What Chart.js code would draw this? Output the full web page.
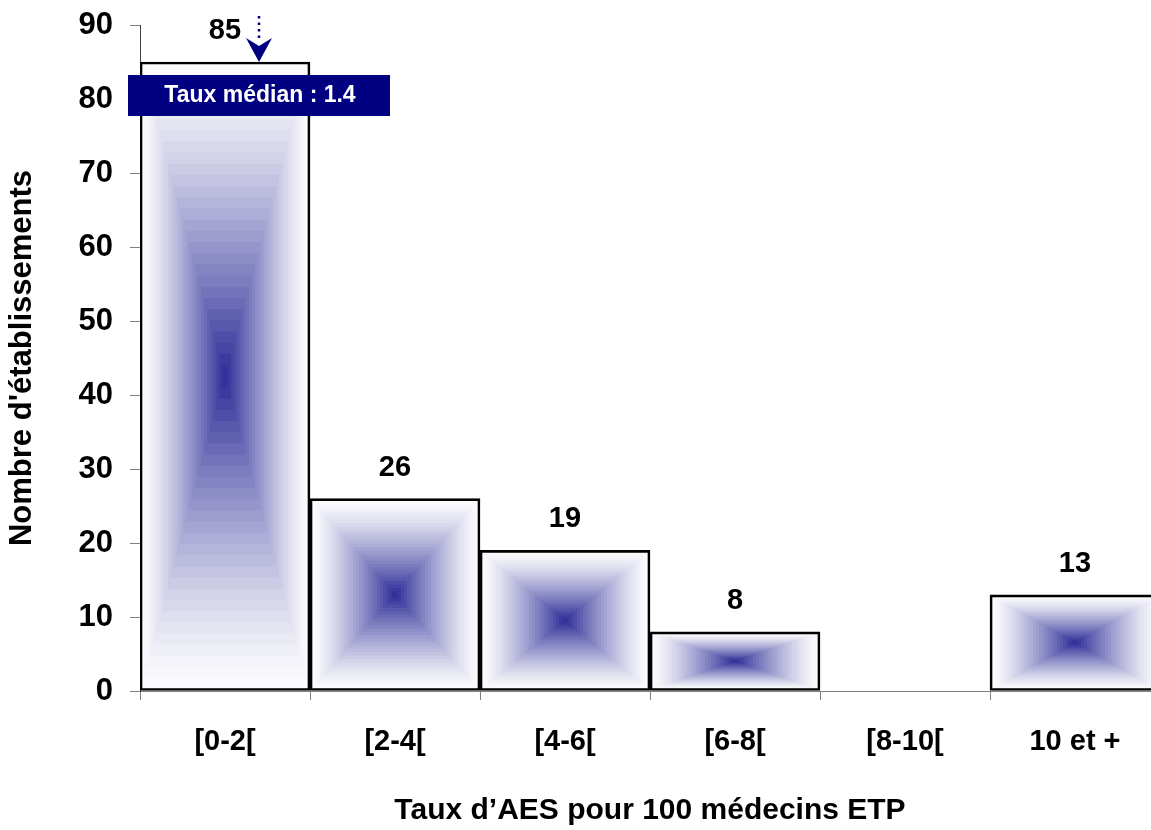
<!DOCTYPE html>
<html>
<head>
<meta charset="utf-8">
<script src="https://cdn.jsdelivr.net/npm/chart.js@4.4.1/dist/chart.umd.min.js"></script>
<style>
  html, body { margin: 0; padding: 0; background: #fff; overflow: hidden; }
  #wrap { width: 1160px; height: 830px; }
</style>
</head>
<body>
<div id="wrap"><canvas id="chart" width="1160" height="830"></canvas></div>
<script>
// Classes du taux d'AES et nombre d'établissements
const classes = ['[0-2[', '[2-4[', '[4-6[', '[6-8[', '[8-10[', '10 et +'];
const nbEtablissements = [85, 26, 19, 8, 0, 13];
const yTicks = [0, 10, 20, 30, 40, 50, 60, 70, 80, 90];
const tauxMedian = 1.4;
const largeurClasse = 2;

const FONT = '"Liberation Sans", Arial, sans-serif';
const NAVY = '#000080';

// dégradé "depuis le centre" en rectangles emboîtés
function drawCenterGradient(ctx, left, top, right, bottom) {
  const cx = (left + right) / 2, cy = (top + bottom) / 2;
  const hw = (right - left) / 2, hh = (bottom - top) / 2;
  const steps = 28;
  const edge = [251, 251, 253], center = [40, 40, 150];
  for (let i = 0; i < steps; i++) {
    const s = i / steps;
    const k = Math.pow(s, 1.3);
    const c = edge.map((e, j) => Math.round(e + (center[j] - e) * k));
    ctx.fillStyle = 'rgb(' + c.join(',') + ')';
    const w = hw * (1 - s), h = hh * (1 - s);
    ctx.fillRect(cx - w, cy - h, w * 2, h * 2);
  }
}

const gradientBars = {
  id: 'gradientBars',
  beforeDatasetsDraw(chart) {
    const ctx = chart.ctx;
    const meta = chart.getDatasetMeta(0);
    ctx.save();
    meta.data.forEach((el, i) => {
      if (!nbEtablissements[i]) return;
      const l = el.x - el.width / 2, r = el.x + el.width / 2;
      drawCenterGradient(ctx, l + 1, el.y + 1, r - 1, el.base - 1);
    });
    ctx.restore();
  }
};

const valueLabels = {
  id: 'valueLabels',
  afterDatasetsDraw(chart) {
    const ctx = chart.ctx;
    const meta = chart.getDatasetMeta(0);
    ctx.save();
    ctx.font = 'bold 29px ' + FONT;
    ctx.fillStyle = '#000';
    ctx.textAlign = 'center';
    ctx.textBaseline = 'middle';
    meta.data.forEach((el, i) => {
      if (!nbEtablissements[i]) return;
      ctx.fillText(String(nbEtablissements[i]), el.x, el.y - 31);
    });

    // flèche + encadré du taux médian
    const first = meta.data[0];
    const mx = first.x - first.width / 2 + first.width * (tauxMedian / largeurClasse);
    const top = first.y;
    ctx.strokeStyle = NAVY;
    ctx.fillStyle = NAVY;
    ctx.lineWidth = 2.5;
    ctx.setLineDash([2.5, 4]);
    ctx.beginPath();
    ctx.moveTo(mx, top - 46);
    ctx.lineTo(mx, top - 20);
    ctx.stroke();
    ctx.setLineDash([]);
    ctx.beginPath();
    ctx.moveTo(mx, top);
    ctx.lineTo(mx - 13, top - 24);
    ctx.lineTo(mx, top - 16);
    ctx.lineTo(mx + 13, top - 24);
    ctx.closePath();
    ctx.fill();

    ctx.fillRect(mx - 131, top + 13, 262, 41);
    ctx.fillStyle = '#fff';
    ctx.font = 'bold 23px ' + FONT;
    ctx.fillText('Taux médian : ' + tauxMedian, mx + 1, top + 34);
    ctx.restore();
  }
};

Chart.defaults.font.family = FONT;
Chart.defaults.font.weight = 'bold';
Chart.defaults.color = '#000';

new Chart(document.getElementById('chart').getContext('2d'), {
  type: 'bar',
  data: {
    labels: classes,
    datasets: [{
      data: nbEtablissements,
      backgroundColor: 'rgba(0,0,0,0)',
      borderColor: '#000',
      borderWidth: [2, 2, 2, 2, 0, 2],
      borderSkipped: false,
      categoryPercentage: 1,
      barPercentage: 1
    }]
  },
  options: {
    responsive: false,
    animation: false,
    events: [],
    layout: { padding: { top: 25, right: 0, left: 0, bottom: 0 } },
    plugins: { legend: { display: false }, tooltip: { enabled: false } },
    scales: {
      x: {
        offset: true,
        grid: { offset: true, drawOnChartArea: false, tickLength: 9, color: '#808080' },
        border: { color: '#808080', width: 1 },
        ticks: { font: { size: 29, weight: 'bold' }, padding: 25, maxRotation: 0 },
        title: { display: true, text: 'Taux d’AES pour 100 médecins ETP', font: { size: 30, weight: 'bold' }, padding: { top: 0, bottom: 1 } },
        afterFit(scale) { scale.height = 139; scale.paddingLeft = 0; scale.paddingRight = 0; }
      },
      y: {
        min: 0,
        max: 90,
        afterBuildTicks(scale) { scale.ticks = yTicks.map(v => ({ value: v })); },
        grid: { drawOnChartArea: false, tickLength: 10, color: '#808080' },
        border: { color: '#404040', width: 1 },
        ticks: { font: { size: 31, weight: 'bold' }, padding: 17 },
        title: { display: true, text: "Nombre d'établissements", font: { size: 31, weight: 'bold' }, padding: { top: 4, bottom: 0 } },
        afterFit(scale) { scale.width = 140; scale.paddingTop = 0; scale.paddingBottom = 0; }
      }
    }
  },
  plugins: [gradientBars, valueLabels]
});
</script>
</body>
</html>
